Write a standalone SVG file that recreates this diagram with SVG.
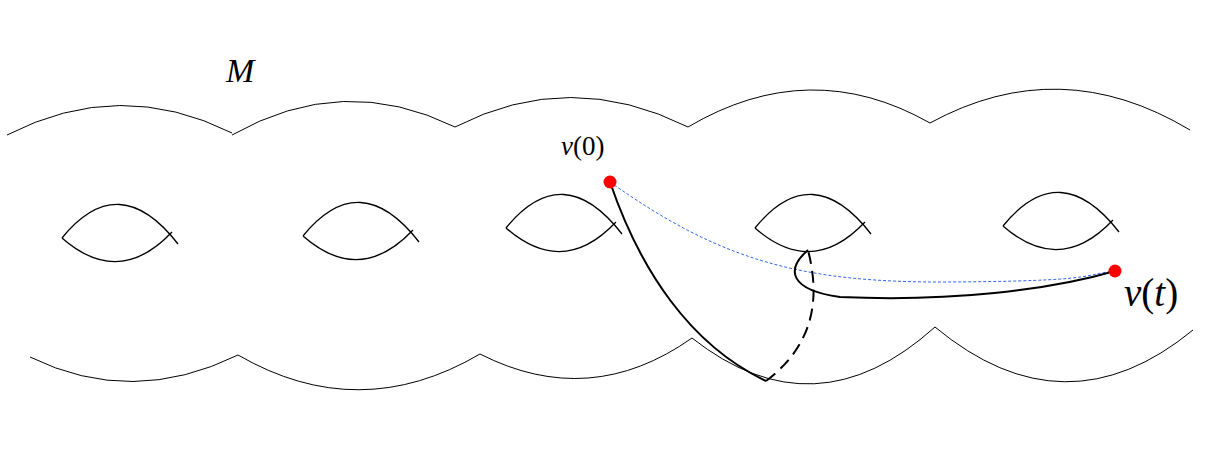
<svg xmlns="http://www.w3.org/2000/svg" width="1232" height="450" viewBox="0 0 1232 450">
<style>
.o{fill:none;stroke:#000;stroke-width:1}
.h{fill:none;stroke:#000;stroke-width:1.3}
.p{fill:none;stroke:#000;stroke-width:2}
.t{font-family:"Liberation Serif",serif;font-style:italic;fill:#000}
.n{font-family:"Liberation Serif",serif;fill:#000}
</style>
<defs>
<g id="hole"><path class="h" d="M0,0 Q57,-70 116,6 M0,0 Q57,50 110,-6"/></g>
</defs>
<g id="surface">
<path class="o" d="M7,135 Q120,77 232,133 M232,135 Q343,72 455,127 M455,127 Q570,68 688,127 M688,127 Q810,55 930,123 M930,123 Q1060,52 1190,130"/>
<path class="o" d="M30,357 Q132,407 238,355 M238,355 Q359,425 480,354 M480,354 Q590,410 692,338 M692,338 Q815,435 935,327 M935,327 Q1065,435 1193,330"/>
</g>
<g id="holes">
<use href="#hole" x="62" y="238"/>
<use href="#hole" x="303" y="236"/>
<use href="#hole" x="506" y="228"/>
<use href="#hole" x="755" y="228"/>
<use href="#hole" x="1003" y="226"/>
</g>
<g id="connectors">
<path fill="none" stroke="#3366ee" stroke-width="1" stroke-dasharray="3,2" d="M610,182 C720,260 800,283 950,282 S1080,275 1115,271"/>
<path class="p" d="M610,182 C640,270 690,345 766,381"/>
<path class="p" stroke-dasharray="12,7" d="M766,381 C820,340 818,290 808,250"/>
<path class="p" d="M808,250 C785,270 790,290 840,297 C950,302 1050,290 1115,271"/>
</g>
<g id="v0"><circle cx="610" cy="182" r="6.5" fill="#ff0000"/></g>
<g id="vt"><circle cx="1115" cy="271" r="6.5" fill="#ff0000"/></g>
<g id="labels">
<text class="t" x="226" y="82" font-size="34">M</text>
<text class="n" x="561" y="155" font-size="27"><tspan font-style="italic">v</tspan>(0)</text>
<text class="n" x="1124" y="306" font-size="39"><tspan font-style="italic">v</tspan>(<tspan font-style="italic">t</tspan>)</text>
</g>
</svg>
